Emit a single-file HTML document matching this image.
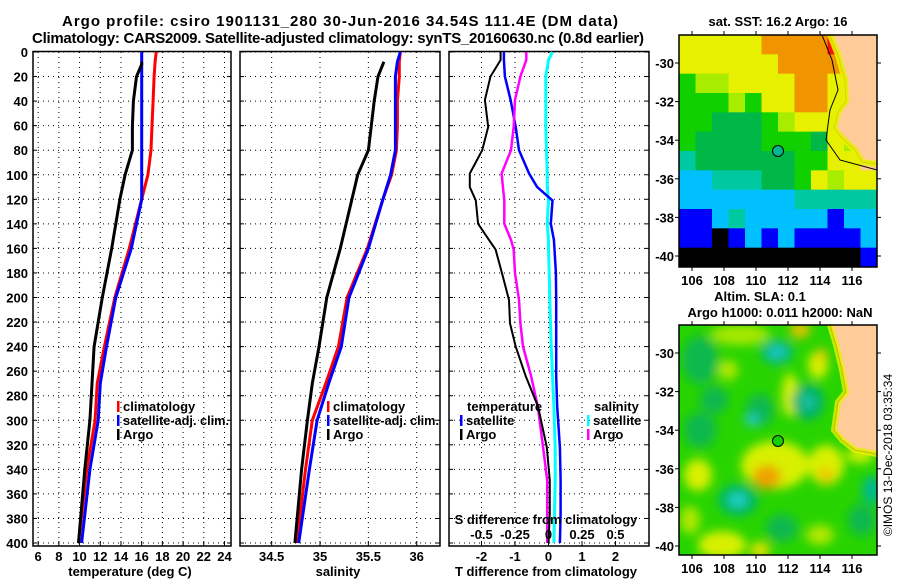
<!DOCTYPE html>
<html><head><meta charset="utf-8"><style>
body{margin:0;background:#fff;}
svg{display:block;font-family:"Liberation Sans",sans-serif;font-weight:bold;}
</style></head><body>
<svg id="c" width="900" height="580" xmlns="http://www.w3.org/2000/svg">
<defs><filter id="blur" x="-50%" y="-50%" width="200%" height="200%"><feGaussianBlur stdDeviation="5"/></filter>
<clipPath id="m2clip"><rect x="679" y="325" width="198" height="230"/></clipPath></defs>
<text x="340" y="26" text-anchor="middle" font-size="15" textLength="556">Argo profile: csiro 1901131_280 30-Jun-2016 34.54S 111.4E (DM data)</text>
<text x="338" y="43" text-anchor="middle" font-size="15" textLength="612">Climatology: CARS2009. Satellite-adjusted climatology: synTS_20160630.nc (0.8d earlier)</text>
<g id="plots"></g>
<g id="maps"></g>
<text transform="translate(892,455) rotate(-90)" text-anchor="middle" font-size="12" font-weight="normal">©IMOS 13-Dec-2018 03:35:34</text>
</svg>
<script>
// ---- data ----
const depthsT = [0,8,20,40,60,80,100,120,160,200,240,270,300,340,400];
const argoDepths = [8,10,20,40,60,80,100,120,160,200,240,270,300,340,400];
const tempArgo = [16.0,16.0,15.5,15.2,15.1,15.1,14.4,13.9,13.1,12.2,11.4,11.2,11.0,10.5,9.9];
const tempClim = [17.4,17.3,17.2,17.1,17.0,16.9,16.6,16.0,14.8,13.4,12.4,11.7,11.5,10.7,9.9];
const tempSat  = [16.0,16.0,16.0,16.0,16.0,16.0,16.0,16.0,15.0,13.5,12.6,12.0,11.8,11.0,10.2];
const salArgo = [35.66,35.65,35.6,35.56,35.53,35.5,35.39,35.33,35.21,35.07,34.99,34.92,34.87,34.81,34.74];
const salClim = [35.83,35.82,35.82,35.8,35.8,35.79,35.74,35.65,35.49,35.28,35.19,35.06,34.92,34.85,34.76];
const salSat  = [35.83,35.8,35.78,35.78,35.78,35.78,35.73,35.65,35.5,35.3,35.22,35.09,34.97,34.89,34.78];
const diffDepth = [0,6.5,20,39,61,80,99,110,121,140,153,161,180,202,221,240,264,289,322,349,376,400];
const dTArgo = [-1.43,-1.43,-1.73,-1.9,-1.8,-1.98,-2.35,-2.35,-2.17,-2.1,-1.78,-1.58,-1.39,-1.18,-1.15,-0.98,-0.68,-0.31,-0.05,0.04,0.04,0.0];
const dTSat  = [-1.33,-1.33,-1.3,-1.13,-0.98,-0.88,-0.58,-0.34,0.12,0.07,0.16,0.18,0.22,0.23,0.23,0.23,0.23,0.26,0.34,0.36,0.36,0.34];
const dSArgo = [-0.166,-0.166,-0.21,-0.25,-0.26,-0.28,-0.35,-0.34,-0.33,-0.33,-0.28,-0.26,-0.25,-0.22,-0.21,-0.19,-0.13,-0.08,-0.04,-0.01,-0.01,-0.01];
const dSSat  = [0.03,0.0,-0.02,-0.02,-0.02,-0.015,-0.01,-0.01,0.0,-0.01,0.0,0.0,0.005,0.01,0.015,0.02,0.03,0.04,0.05,0.05,0.045,0.04];
const depthTicks = [0,20,40,60,80,100,120,140,160,180,200,220,240,260,280,300,320,340,360,380,400];
const tTicks = [6,8,10,12,14,16,18,20,22,24];
const sTicks = [34.5,35,35.5,36];
const dTTicks = [-2,-1,0,1,2];
const dSTickLabels = ['-0.5','-0.25','0','0.25','0.5'];
const dSTicks = [-0.5,-0.25,0,0.25,0.5];

const NS='http://www.w3.org/2000/svg';
function mk(tag,attrs,parent){const e=document.createElementNS(NS,tag);for(const k in attrs)e.setAttribute(k,attrs[k]);parent.appendChild(e);return e;}
const plots=document.getElementById('plots');
const top0=52, bot0=543;
const yD = d => top0 + d*(bot0-top0)/400;

function panel(name,x0,x1,xf,ticks,labels,showDepth){
  const g=mk('g',{},plots);
  
  
  depthTicks.forEach(d=>{
    const y=yD(d);
    const gl=mk('line',{x1:x0,x2:x1,y1:y,y2:y,stroke:'#000','stroke-width':1,'stroke-dasharray':'1,4'},g);
    
    
    mk('line',{x1:x0,x2:x0+4,y1:y,y2:y,stroke:'#000'},g);
    mk('line',{x1:x1-4,x2:x1,y1:y,y2:y,stroke:'#000'},g);
    if(showDepth){const t=mk('text',{x:28,y:y+5,'text-anchor':'end','font-size':13},g);t.textContent=d;
      
      }
  });
  ticks.forEach((v,i)=>{
    const x=xf(v);
    const gl=mk('line',{x1:x,x2:x,y1:top0,y2:546,stroke:'#000','stroke-dasharray':'1,4'},g);
    
    
    mk('line',{x1:x,x2:x,y1:546,y2:541,stroke:'#000'},g);
    const t=mk('text',{x:x,y:561,'text-anchor':'middle','font-size':13},g);t.textContent=labels[i];
    
    
  });
  const r=mk('rect',{x:x0,y:top0-0.5,width:x1-x0,height:546-top0+0.5,fill:'none',stroke:'#000','stroke-width':1.5},g);
  
  
  return g;
}
function series(g,name,xs,ds,xf,color,w){
  const pts=xs.map((v,i)=>xf(v).toFixed(1)+','+yD(ds[i]).toFixed(1)).join(' ');
  const p=mk('polyline',{points:pts,fill:'none',stroke:color,'stroke-width':w},g);
  
  
}
function legend(g,x,y,color,label,name,tl){
  mk('rect',{x:x,y:y-10,width:2.5,height:11,fill:color},g);
  const a={x:x+6,y:y,'font-size':13};
  if(tl){a.textLength=tl;a.lengthAdjust='spacingAndGlyphs';}
  const t=mk('text',a,g);t.textContent=label;
  
  
}
function label(g,x,y,txt,name,anchor){const t=mk('text',{x:x,y:y,'text-anchor':anchor||'middle','font-size':13},g);t.textContent=txt;
  
  }

// panel 1 temperature
const xT=v=>33+(v-5.5)*10.35;
const p1=panel('temperature-panel',33,231,xT,tTicks,tTicks.map(String),true);
series(p1,'temp-climatology-line',tempClim,depthsT,xT,'#f00',3);
series(p1,'temp-satellite-line',tempSat,depthsT,xT,'#00f',3);
series(p1,'temp-argo-line',tempArgo,argoDepths,xT,'#000',3);
legend(p1,117,411,'#f00','climatology','legend-climatology');
legend(p1,117,425,'#00f','satellite-adj. clim.','legend-satellite',106);
legend(p1,117,439,'#000','Argo','legend-argo');
label(p1,130,576,'temperature (deg C)','x-axis-title-temperature');

// panel 2 salinity
const xS=v=>320+(v-35)*96.7;
const p2=panel('salinity-panel',240,440,xS,sTicks,['34.5','35','35.5','36'],false);
series(p2,'sal-climatology-line',salClim,depthsT,xS,'#f00',3);
series(p2,'sal-satellite-line',salSat,depthsT,xS,'#00f',3);
series(p2,'sal-argo-line',salArgo,argoDepths,xS,'#000',3);
legend(p2,327,411,'#f00','climatology','legend-climatology');
legend(p2,327,425,'#00f','satellite-adj. clim.','legend-satellite',106);
legend(p2,327,439,'#000','Argo','legend-argo');
label(p2,338,576,'salinity','x-axis-title-salinity');

// panel 3 differences
const xDT=v=>548.5+v*33.5;
const xDS=v=>548.5+v*134;
const p3=panel('difference-panel',449,649,xDT,dTTicks,['-2','-1','0','1','2'],false);
series(p3,'sal-diff-satellite-line',dSSat,diffDepth,xDS,'#0ff',3);
series(p3,'temp-diff-satellite-line',dTSat,diffDepth,xDT,'#00f',2.5);
series(p3,'sal-diff-argo-line',dSArgo,diffDepth,xDS,'#f0f',2.5);
series(p3,'temp-diff-argo-line',dTArgo,diffDepth,xDT,'#000',2);
label(p3,467,411,'temperature','legend-temperature-heading','start');
legend(p3,460,425,'#00f','satellite','legend-temp-satellite');
legend(p3,460,439,'#000','Argo','legend-temp-argo');
label(p3,594,411,'salinity','legend-salinity-heading','start');
legend(p3,587,425,'#0ff','satellite','legend-sal-satellite');
legend(p3,587,439,'#f0f','Argo','legend-sal-argo');
label(p3,546,524,'S difference from climatology','s-axis-title');
dSTicks.forEach((v,i)=>label(p3,xDS(v),539,dSTickLabels[i],'s-tick-label'));
label(p3,546,576,'T difference from climatology','x-axis-title-tdiff');

// ---- maps ----
const maps=document.getElementById('maps');
const C={O:'#f09400',Y:'#e6f000',L:'#a8ec00',G:'#10d000',D:'#00b848',T:'#00c8a0',C:'#00c0ff',B:'#0000ff',K:'#000',P:'#ffcc99',R:'#ff1010'};
const sstRows=["YYYYYOOOORPP","YYYYYYOOOOPP","GLLYYYYOOYPP","GGGLGYYOOYYP","GGDDDGLYYYYP","GDDDDGGGDYLP","TDDDDDDGGYYP","CCTTTDDGYLYY","CCCCCCCTTTTT","BBCTCCCCCBCC","BBKBCBCBBBBC","KKKKKKKKKKKB"];
const lonTicks=[106,108,110,112,114,116];
const latTicks=[-30,-32,-34,-36,-38,-40];
const mx0=679,mx1=877,cw=198/12;
function mapFrame(g,y0,y1,lat30){
  lonTicks.forEach(l=>{const x=692+(l-106)*16;
    mk('line',{x1:x,x2:x,y1:y0,y2:y0-4,stroke:'#000'},g);mk('line',{x1:x,x2:x,y1:y1,y2:y1+4,stroke:'#000'},g);
    const t=mk('text',{x:x,y:y1+18,'text-anchor':'middle','font-size':13},g);t.textContent=l;
    
    });
  latTicks.forEach(l=>{const y=lat30+(-30-l)*19.3;
    mk('line',{x1:mx0,x2:mx0-4,y1:y,y2:y,stroke:'#000'},g);mk('line',{x1:mx1,x2:mx1+4,y1:y,y2:y,stroke:'#000'},g);
    const t=mk('text',{x:674,y:y+5,'text-anchor':'end','font-size':13},g);t.textContent=l;
    
    });
  mk('rect',{x:mx0,y:y0,width:mx1-mx0,height:y1-y0,fill:'none',stroke:'#000','stroke-width':1.5},g);
}
const m1=mk('g',{},maps);


const ch=232/12;
sstRows.forEach((row,j)=>{[...row].forEach((c,i)=>{
  mk('rect',{x:mx0+i*cw,y:35+j*ch,width:cw+0.5,height:ch+0.5,fill:C[c]},m1);});});
mk('path',{d:'M830,35 L838,55 L845,80 L846,101 L838,112 L834,128 L840,136 L855,150 L862,162 L877,164 L877,35 Z',fill:'#ffcc99',stroke:'#000','stroke-width':1},m1);
mk('path',{d:'M830,35 L838,55 L845,80 L846,101 L838,112 L834,128 L840,136 L855,150 L862,162 L877,164',fill:'none',stroke:'#e8f000','stroke-width':6,opacity:0.9},m1);
mk('path',{d:'M822,35 L832,60 L838,90 L830,110 L826,140 L840,160 L877,170',fill:'none',stroke:'#000','stroke-width':1},m1);
const c1=mk('circle',{cx:778,cy:151,r:5.5,fill:'#00b890',stroke:'#000','stroke-width':1},m1);


mapFrame(m1,35,267,63);
label(m1,778,26,'sat. SST: 16.2 Argo: 16','sst-map-title');

const m2=mk('g',{},maps);


const m2in=mk('g',{'clip-path':'url(#m2clip)'},m2);
mk('rect',{x:679,y:325,width:198,height:230,fill:'#28d400'},m2in);
const blobs=[
[740,335,30,10,'#a8e800'],[800,330,10,8,'#f0c000'],
[700,360,18,24,'#10b850'],[777,352,16,12,'#00b890'],[777,352,8,6,'#20c8c0'],
[728,370,10,10,'#b0e800'],[790,395,8,22,'#d8f000'],[760,410,14,16,'#10b850'],[752,420,8,6,'#20c8c0'],
[714,400,14,14,'#10b850'],[808,402,16,18,'#00b070'],[808,402,6,6,'#20c8b0'],
[818,365,10,14,'#d8f000'],[822,355,6,6,'#f0c800'],
[700,430,16,18,'#10b850'],[775,465,34,24,'#d8f000'],[767,477,14,12,'#f0a000'],
[826,465,18,20,'#d8f000'],[826,475,8,8,'#f0c800'],[698,475,14,16,'#d8f000'],
[738,500,20,16,'#00b868'],[738,500,9,7,'#20d0c8'],[782,528,16,14,'#10b850'],
[722,545,24,14,'#d8f000'],[760,550,10,8,'#e8e000'],[872,490,10,14,'#00b890'],
[862,520,14,16,'#10b850'],[860,455,14,8,'#d0f000'],[820,535,14,10,'#b0e800'],[690,520,10,14,'#b0e800']];
const bg=mk('g',{filter:'url(#blur)'},m2in);
blobs.forEach(b=>mk('ellipse',{cx:b[0],cy:b[1],rx:b[2],ry:b[3],fill:b[4]},bg));
mk('path',{d:'M830,325 L836,345 L842,370 L846,392 L838,402 L834,430 L842,440 L855,450 L877,454 L877,325 Z',fill:'#ffcc99',stroke:'#000','stroke-width':1},m2in);
mk('path',{d:'M830,325 L836,345 L842,370 L846,392 L838,402 L834,430 L842,440 L855,450 L877,454',fill:'none',stroke:'#e8f000','stroke-width':6,opacity:0.8},m2in);
const c2=mk('circle',{cx:778,cy:441,r:5.5,fill:'#10d000',stroke:'#000','stroke-width':1},m2);


mapFrame(m2,325,555,353);
label(m2,760,301,'Altim. SLA: 0.1','sla-map-title');
label(m2,780,317,'Argo h1000: 0.011 h2000: NaN','sla-map-subtitle');
</script>
</body></html>
